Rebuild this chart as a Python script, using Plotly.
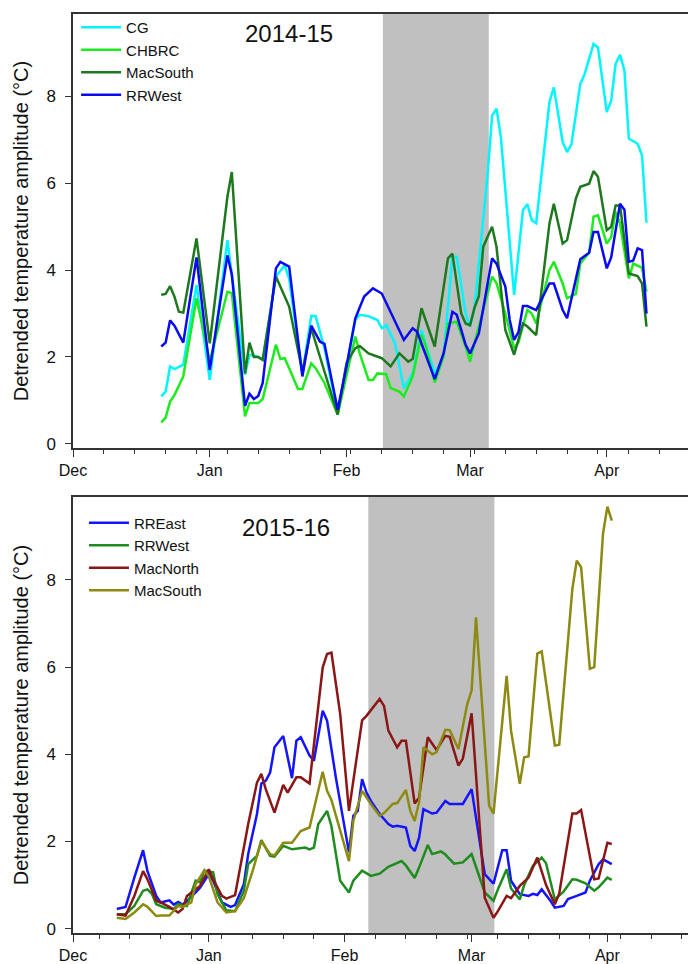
import pandas as pd
import plotly.graph_objects as go

# ---------------- data: 2014-15 (day offsets from 2014-12-01) ----------------
base_1415 = "2014-12-01"
cg_days = [20, 21, 22, 23, 25, 28, 31, 35, 36, 39, 40, 42, 43, 46, 48, 49, 52, 54, 55, 57, 60, 62, 64, 65, 67, 69, 70, 71, 73, 75, 77, 79, 80, 82, 84, 86, 87, 89, 90, 91, 94, 95, 96, 97, 100, 102, 103, 104, 105, 108, 109, 111, 112, 113, 115, 116, 118, 119, 121, 122, 123, 124, 125, 126, 128, 129, 130]
cg_vals = [1.09, 1.2, 1.78, 1.72, 1.82, 3.66, 1.47, 4.69, 3.9, 1.59, 2.05, 2.0, 1.93, 3.85, 4.11, 3.8, 1.6, 2.94, 2.94, 2.2, 0.7, 1.8, 2.85, 2.97, 2.94, 2.85, 2.66, 2.73, 2.31, 1.28, 1.62, 2.62, 2.3, 1.62, 2.01, 4.31, 4.31, 3.0, 2.7, 3.1, 6.22, 7.56, 7.72, 7.06, 3.43, 5.38, 5.52, 5.15, 5.08, 7.87, 8.21, 6.95, 6.72, 6.9, 8.29, 8.52, 9.21, 9.13, 7.64, 7.9, 8.75, 8.96, 8.6, 7.03, 6.91, 6.64, 5.09]

chbrc_days = [20, 21, 22, 23, 25, 28, 31, 35, 36, 39, 40, 42, 43, 46, 47, 48, 49, 51, 52, 54, 55, 57, 60, 64, 65, 67, 68, 69, 71, 72, 74, 75, 77, 79, 80, 82, 84, 85, 87, 89, 90, 91, 95, 96, 98, 100, 101, 103, 104, 105, 108, 109, 111, 112, 114, 115, 117, 118, 119, 121, 122, 123, 124, 126, 127, 129, 130]
chbrc_vals = [0.49, 0.6, 0.97, 1.12, 1.55, 3.35, 1.9, 3.5, 3.47, 0.63, 0.94, 0.94, 1.03, 2.28, 1.95, 1.97, 1.74, 1.26, 1.26, 1.85, 1.74, 1.4, 0.67, 2.47, 2.08, 1.47, 1.47, 1.62, 1.6, 1.28, 1.2, 1.09, 1.55, 2.51, 2.24, 1.41, 2.01, 2.77, 2.81, 2.24, 1.89, 2.32, 3.85, 3.7, 3.0, 2.2, 2.34, 3.08, 3.0, 2.77, 4.0, 4.19, 3.69, 3.35, 3.45, 4.15, 4.4, 5.23, 5.26, 4.61, 4.76, 5.34, 5.08, 3.81, 4.15, 4.05, 3.5]

macs14_days = [20, 21, 22, 23, 24, 25, 28, 31, 35, 36, 39, 40, 41, 42, 43, 46, 49, 52, 54, 60, 62, 64, 65, 67, 70, 72, 74, 76, 77, 79, 82, 85, 86, 88, 89, 90, 91, 92, 93, 95, 96, 98, 100, 101, 102, 103, 105, 108, 109, 111, 112, 114, 115, 117, 118, 119, 121, 122, 123, 124, 126, 128, 129, 130]
macs14_vals = [3.43, 3.45, 3.63, 3.39, 3.04, 3.02, 4.73, 2.31, 5.69, 6.26, 1.62, 2.33, 2.0, 2.0, 1.93, 3.85, 3.16, 1.66, 2.66, 0.67, 1.86, 2.2, 2.25, 2.08, 1.97, 1.78, 2.08, 1.89, 1.95, 3.12, 2.24, 4.27, 4.38, 3.0, 2.77, 2.73, 3.13, 3.4, 4.54, 5.0, 4.54, 2.62, 2.05, 2.39, 2.77, 2.7, 2.5, 5.07, 5.53, 4.61, 4.69, 5.65, 5.92, 5.99, 6.28, 6.15, 4.92, 5.0, 5.49, 5.49, 3.92, 3.86, 3.69, 2.7]

rrw14_days = [20, 21, 22, 23, 25, 28, 31, 35, 36, 39, 40, 41, 42, 43, 46, 47, 49, 52, 54, 56, 57, 60, 62, 64, 66, 68, 70, 75, 77, 78, 82, 84, 86, 87, 89, 90, 92, 95, 96, 98, 99, 100, 101, 102, 103, 105, 108, 109, 111, 112, 115, 117, 118, 119, 121, 122, 124, 125, 126, 127, 128, 129, 130]
rrw14_vals = [2.24, 2.33, 2.84, 2.72, 2.33, 4.29, 1.7, 4.34, 3.9, 0.87, 1.15, 1.03, 1.1, 1.4, 4.04, 4.19, 4.08, 1.55, 2.72, 2.35, 2.3, 0.78, 1.78, 2.89, 3.39, 3.58, 3.46, 2.39, 2.66, 2.58, 1.49, 2.08, 3.04, 2.97, 2.28, 2.08, 2.54, 4.27, 4.15, 3.62, 2.85, 2.39, 2.58, 3.17, 3.17, 3.08, 3.69, 3.69, 3.08, 2.89, 4.25, 4.4, 4.88, 4.88, 4.04, 4.29, 5.53, 5.39, 4.19, 4.22, 4.5, 4.46, 3.0]

shade_1415 = ["2015-02-09 06:00", "2015-03-05 06:00"]

# ---------------- data: 2015-16 (day offsets from 2015-12-01) ----------------
base_1516 = "2015-12-01"
rre_days = [10, 12, 14, 16, 17, 19, 20, 22, 23, 24, 25, 26, 28, 29, 31, 32, 34, 36, 37, 39, 40, 42, 43, 44, 45, 46, 48, 50, 51, 52, 54, 55, 57, 58, 60, 63, 64, 65, 66, 67, 68, 70, 72, 73, 74, 76, 77, 78, 79, 80, 82, 83, 85, 86, 89, 91, 94, 96, 98, 99, 100, 102, 104, 105, 106, 107, 109, 110, 112, 113, 115, 117, 118, 120, 121, 123]
rre_vals = [0.45, 0.5, 1.17, 1.8, 1.32, 0.75, 0.6, 0.65, 0.55, 0.61, 0.55, 0.63, 0.83, 0.94, 1.25, 1.1, 0.6, 0.5, 0.54, 1.02, 1.71, 2.63, 3.33, 3.39, 3.58, 4.16, 4.42, 3.45, 4.31, 4.39, 3.97, 3.85, 5.0, 4.77, 3.47, 1.75, 2.59, 2.7, 3.43, 3.12, 2.93, 2.63, 2.4, 2.34, 2.36, 2.32, 1.9, 1.78, 2.08, 2.74, 2.64, 2.66, 2.93, 2.86, 2.86, 3.2, 1.25, 1.03, 1.8, 1.8, 1.1, 0.79, 0.75, 0.8, 0.77, 0.9, 0.64, 0.48, 0.52, 0.68, 0.75, 0.83, 1.1, 1.48, 1.59, 1.48]

rrw15_days = [10, 12, 14, 16, 17, 18, 19, 21, 23, 24, 26, 28, 29, 30, 32, 33, 35, 37, 39, 40, 42, 43, 45, 46, 48, 50, 53, 54, 55, 56, 58, 59, 61, 63, 64, 66, 68, 70, 72, 75, 76, 78, 79, 81, 82, 84, 85, 87, 89, 91, 94, 96, 97, 99, 100, 102, 103, 105, 107, 108, 110, 112, 114, 115, 117, 119, 120, 122, 123]
rrw15_vals = [0.33, 0.33, 0.52, 0.87, 0.9, 0.8, 0.56, 0.48, 0.45, 0.56, 0.52, 1.1, 1.06, 1.33, 1.29, 0.79, 0.42, 0.4, 0.87, 1.48, 1.67, 2.03, 1.67, 1.65, 1.9, 1.82, 1.86, 1.82, 1.86, 2.4, 2.7, 2.35, 1.1, 0.83, 1.1, 1.33, 1.21, 1.26, 1.42, 1.55, 1.45, 1.16, 1.4, 1.92, 1.71, 1.77, 1.7, 1.49, 1.52, 1.71, 0.83, 0.64, 0.9, 1.36, 0.92, 0.67, 1.0, 1.44, 1.63, 1.5, 0.67, 0.85, 1.13, 1.12, 1.04, 0.87, 0.95, 1.17, 1.12]

macn_days = [10, 12, 14, 16, 17, 19, 20, 22, 24, 25, 26, 29, 31, 32, 34, 35, 37, 40, 42, 43, 44, 46, 48, 49, 51, 52, 54, 57, 58, 59, 61, 63, 66, 67, 70, 71, 72, 74, 75, 76, 78, 79, 81, 83, 85, 86, 88, 89, 91, 94, 96, 97, 99, 100, 102, 104, 106, 108, 110, 111, 114, 115, 116, 117, 119, 120, 122, 123]
macn_vals = [0.33, 0.3, 0.75, 1.32, 1.13, 0.64, 0.6, 0.5, 0.37, 0.45, 0.75, 0.98, 1.36, 1.13, 0.75, 0.69, 0.77, 2.4, 3.35, 3.55, 3.2, 2.66, 3.3, 3.12, 3.47, 3.47, 3.33, 5.99, 6.3, 6.33, 4.92, 2.7, 4.78, 4.88, 5.27, 5.11, 4.54, 4.16, 4.31, 4.31, 2.87, 3.0, 4.39, 4.1, 4.42, 4.4, 3.74, 3.9, 4.94, 0.71, 0.25, 0.4, 0.75, 0.7, 0.98, 1.17, 1.63, 1.0, 0.56, 0.8, 2.64, 2.64, 2.72, 2.2, 1.13, 1.15, 1.97, 1.94]

macs15_days = [10, 12, 14, 16, 17, 19, 20, 22, 24, 25, 27, 28, 30, 31, 33, 35, 37, 39, 41, 43, 45, 46, 48, 50, 52, 54, 57, 58, 59, 63, 64, 66, 68, 70, 71, 73, 74, 76, 77, 78, 79, 80, 82, 83, 85, 86, 88, 90, 91, 92, 95, 96, 99, 100, 102, 103, 104, 106, 107, 108, 110, 111, 114, 115, 116, 118, 119, 121, 122, 123]
macs15_vals = [0.25, 0.22, 0.37, 0.56, 0.5, 0.29, 0.3, 0.3, 0.52, 0.5, 0.6, 1.02, 1.34, 1.2, 0.6, 0.37, 0.4, 0.7, 1.32, 2.01, 1.71, 1.68, 1.97, 1.97, 2.24, 2.32, 3.6, 3.16, 2.95, 1.55, 2.47, 3.16, 2.86, 2.59, 2.65, 2.86, 2.88, 3.18, 2.7, 2.47, 2.9, 4.16, 4.0, 4.05, 4.56, 4.55, 4.12, 5.15, 5.46, 7.14, 2.82, 2.64, 5.8, 4.54, 3.32, 3.93, 3.95, 6.31, 6.36, 5.61, 4.2, 4.22, 7.79, 8.44, 8.29, 5.96, 6.0, 9.06, 9.68, 9.36]

shade_1516 = ["2016-02-06 10:00", "2016-03-06 05:00"]

month_ticks_fmt = "%b"
ytick_vals = [0, 2, 4, 6, 8]
ytitle = "Detrended temperature amplitude (°C)"


def to_dates(base, days):
    return pd.Timestamp(base) + pd.to_timedelta(days, unit="D")


FONT = "Liberation Sans, Arial, sans-serif"
AX = "#333333"

fig = go.Figure()

top_series = [
    ("CG", cg_days, cg_vals, "#00F5FF"),
    ("CHBRC", chbrc_days, chbrc_vals, "#1EEB1E"),
    ("MacSouth", macs14_days, macs14_vals, "#1E781E"),
    ("RRWest", rrw14_days, rrw14_vals, "#0A0AF0"),
]
for name, d, v, c in top_series:
    fig.add_trace(go.Scatter(x=to_dates(base_1415, d), y=v, mode="lines", name=name,
                             line=dict(color=c, width=2.5), xaxis="x", yaxis="y",
                             legend="legend"))

bot_series = [
    ("RREast", rre_days, rre_vals, "#1414FF"),
    ("RRWest", rrw15_days, rrw15_vals, "#1F8C1F"),
    ("MacNorth", macn_days, macn_vals, "#8B1616"),
    ("MacSouth", macs15_days, macs15_vals, "#8C8A10"),
]
for name, d, v, c in bot_series:
    fig.add_trace(go.Scatter(x=to_dates(base_1516, d), y=v, mode="lines", name=name,
                             line=dict(color=c, width=2.5), xaxis="x2", yaxis="y2",
                             legend="legend2"))

for xr, yr, sh in (("x", "y", shade_1415), ("x2", "y2", shade_1516)):
    fig.add_shape(type="rect", xref=xr, yref=yr + " domain", x0=sh[0], x1=sh[1], y0=0, y1=1,
                  fillcolor="#C0C0C0", line=dict(width=0), layer="below")

def xaxis(start, end, minor0, anchor):
    return dict(type="date", range=[start, end], anchor=anchor, automargin=False,
                tickmode="linear", tick0=start, dtick="M1", tickformat=month_ticks_fmt,
                ticks="outside", ticklen=7, tickwidth=1.3, tickcolor=AX,
                minor=dict(ticks="outside", ticklen=4, tick0=minor0, dtick=7 * 86400000,
                           tickcolor=AX, tickwidth=1.2),
                showline=True, linecolor=AX, linewidth=1.5, mirror=True,
                showgrid=False, zeroline=False, ticklabelstandoff=0,
                tickfont=dict(family=FONT, size=16, color="#111111"))

def yaxis(domain, anchor):
    return dict(domain=domain, anchor=anchor, range=[-0.1, 9.9], automargin=False,
                tickmode="array", tickvals=ytick_vals,
                ticks="outside", ticklen=6, tickwidth=1.3, tickcolor=AX,
                showline=True, linecolor=AX, linewidth=1.5, mirror=True,
                showgrid=False, zeroline=False, ticklabelstandoff=6,
                tickfont=dict(family=FONT, size=17, color="#111111"),
                title=dict(text=ytitle, font=dict(family=FONT, size=20, color="#111111"),
                           standoff=12))

leg_common = dict(bgcolor="rgba(0,0,0,0)", borderwidth=0, xanchor="left", yanchor="top",
                  font=dict(family=FONT, size=15, color="#111111"), itemwidth=40,
                  tracegroupgap=0)

fig.update_layout(
    width=688, height=956,
    margin=dict(l=65, r=1, t=6, b=31, autoexpand=False),
    paper_bgcolor="white", plot_bgcolor="white",
    showlegend=True,
    xaxis=xaxis("2014-12-01", "2015-04-21", "2014-12-01", "y"),
    yaxis=yaxis([0.5277, 1.0], "x"),
    xaxis2=xaxis("2015-12-01", "2016-04-21", "2015-12-07", "y2"),
    yaxis2=yaxis([0.0, 0.4744], "x2"),
    legend=dict(x=0.005, y=1.0033, **leg_common),
    legend2=dict(x=0.0176, y=0.4640, **leg_common),
    annotations=[
        dict(text="2014-15", xref="paper", yref="paper", x=0.3465, y=0.9788,
             xanchor="center", yanchor="middle",
             showarrow=False, font=dict(family=FONT, size=24, color="#111111")),
        dict(text="2015-16", xref="paper", yref="paper", x=0.3424, y=0.4412,
             xanchor="center", yanchor="middle",
             showarrow=False, font=dict(family=FONT, size=24, color="#111111")),
    ],
)

fig.write_html("out.html")
